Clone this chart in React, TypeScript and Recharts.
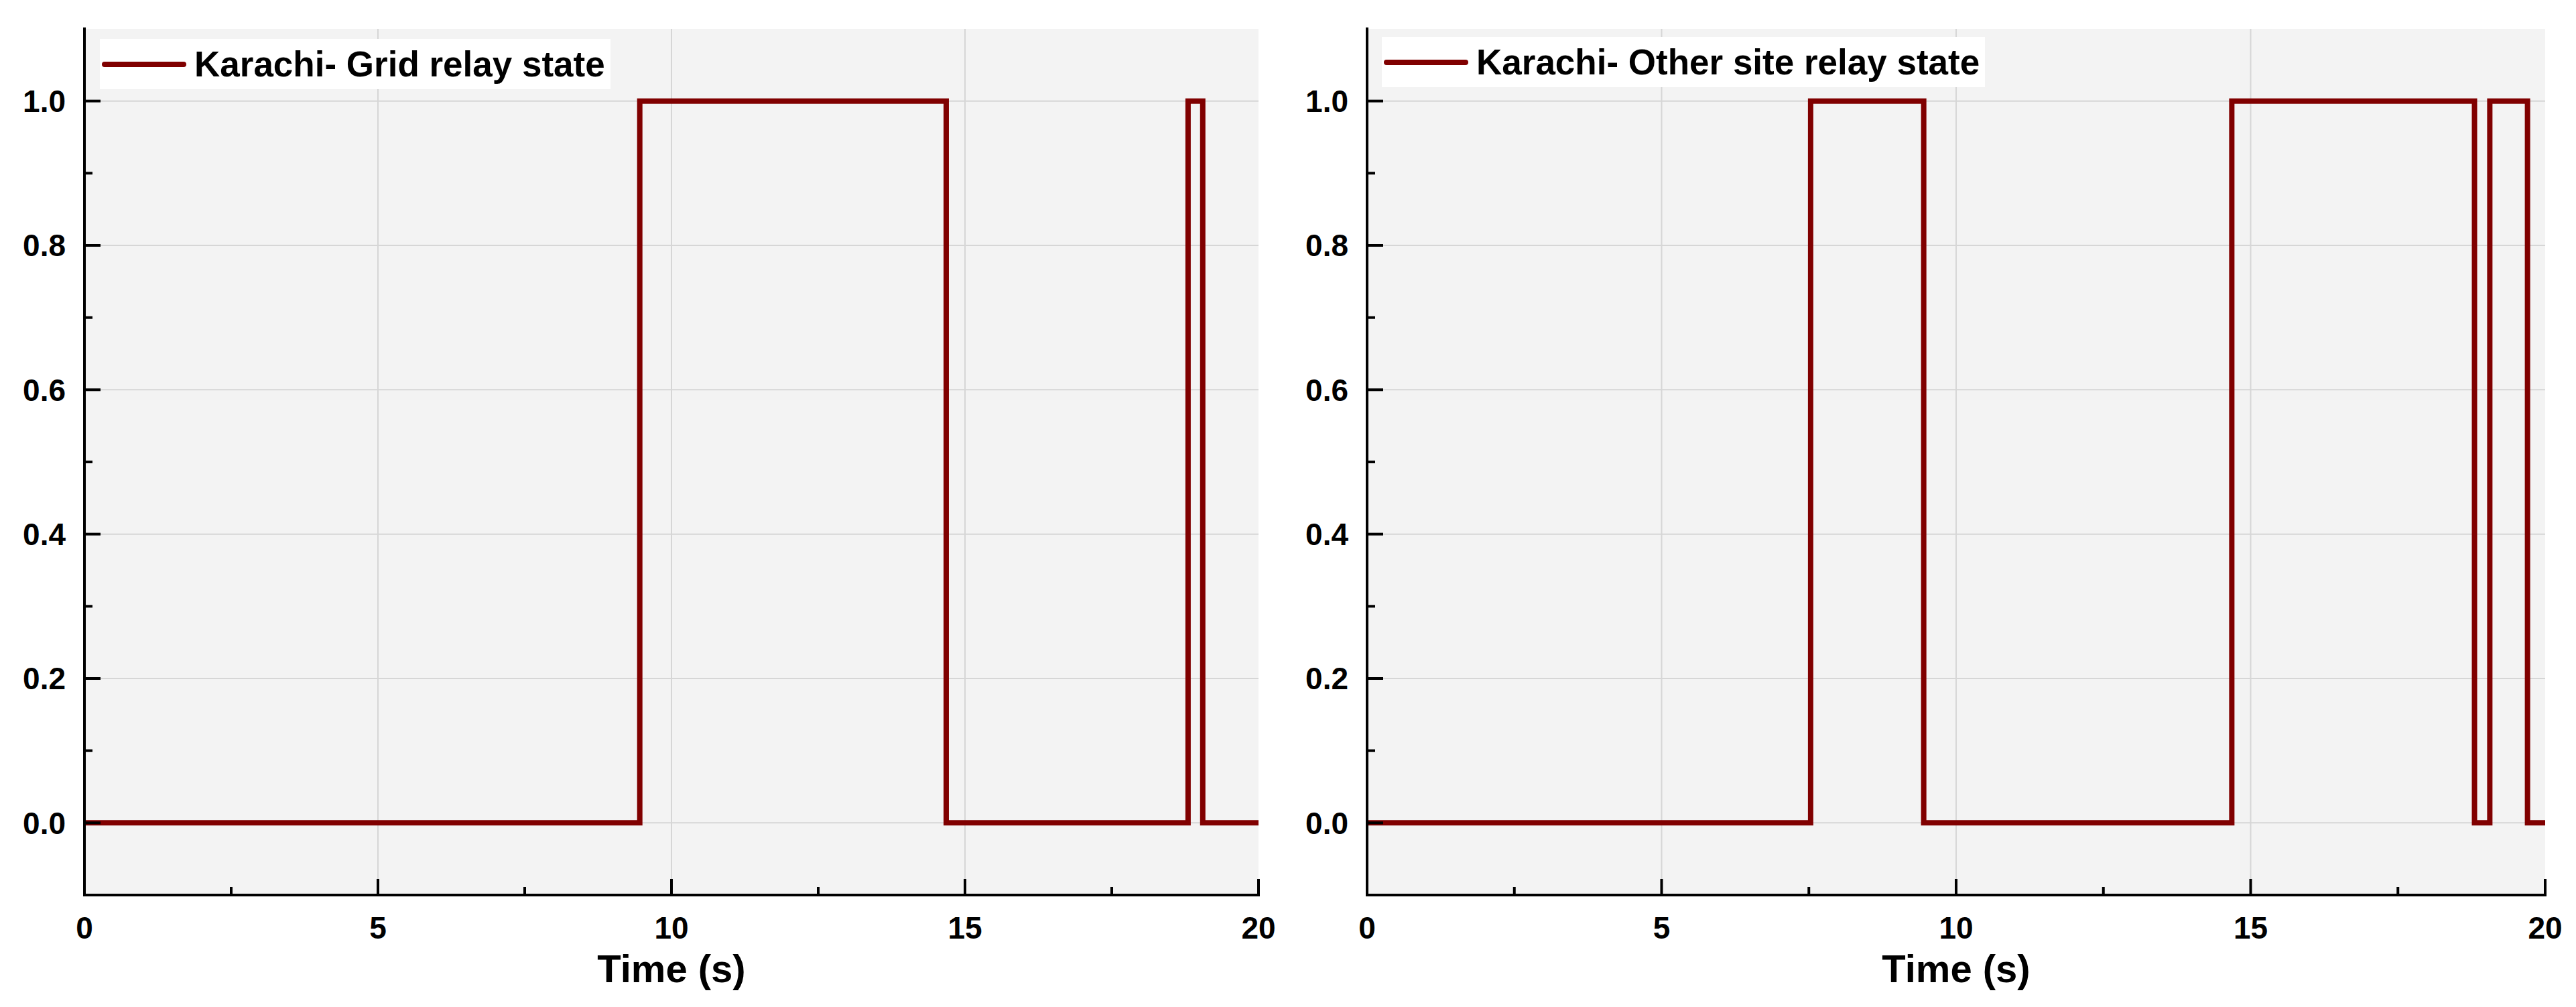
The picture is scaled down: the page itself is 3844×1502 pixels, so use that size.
import { LineChart, Line, XAxis, YAxis, CartesianGrid, Legend } from 'recharts'

// axis ticks
const xMajor = [0, 5, 10, 15, 20]
const xMinor = [2.5, 7.5, 12.5, 17.5]
const yMajor = [0, 0.2, 0.4, 0.6, 0.8, 1.0]
const yMinor = [0.1, 0.3, 0.5, 0.7, 0.9]
const xGrid = [5, 10, 15]
const yGrid = [0, 0.2, 0.4, 0.6, 0.8, 1.0]

// relay states (switching instants, s)
const gridTimes = [0, 9.46, 14.68, 18.8, 19.05, 20]
const gridState = [0, 1, 0, 1, 0, 0]
const otherTimes = [0, 7.53, 9.45, 14.68, 18.8, 19.06, 19.7, 20]
const otherState = [0, 1, 0, 1, 0, 1, 0, 0]

const FONT = '"Liberation Sans", Arial, Helvetica, sans-serif'
const RED = '#800000'

const xTicks = [...xMajor, ...xMinor].sort((a, b) => a - b)
const yTicks = [...yMajor, ...yMinor].sort((a, b) => a - b)
const topTicks = [...xMajor.slice(1, -1), ...xMinor].sort((a, b) => a - b)
const rightTicks = yTicks.filter((v) => v > 0)

const isMajor = (list: number[], v: number) => list.some((m) => Math.abs(m - v) < 1e-9)

function BottomTick({ x, y, payload }: any) {
  const major = isMajor(xMajor, payload.value)
  return (
    <g>
      <line x1={x} y1={y} x2={x} y2={y - (major ? 24 : 12)} stroke="#000" strokeWidth={4} />
      {major && (
        <text x={x} y={y + 32} dy="0.71em" textAnchor="middle" fontSize={46} fontWeight="bold" fontFamily={FONT} fill="#000">
          {payload.value}
        </text>
      )}
    </g>
  )
}

function LeftTick({ x, y, payload }: any) {
  const major = isMajor(yMajor, payload.value)
  return (
    <g>
      <line x1={x} y1={y} x2={x + (major ? 24 : 12)} y2={y} stroke="#000" strokeWidth={4} />
      {major && (
        <text x={x - 28} y={y} dy="0.355em" textAnchor="end" fontSize={46} fontWeight="bold" fontFamily={FONT} fill="#000">
          {payload.value.toFixed(1)}
        </text>
      )}
    </g>
  )
}

function TopTick({ x, y }: any) {
  return <line x1={x} y1={y} x2={x} y2={y + 12} stroke="#000" strokeWidth={4} />
}

function RightTick({ x, y, payload }: any) {
  const major = isMajor(yMajor, payload.value)
  return <line x1={x} y1={y} x2={x - (major ? 24 : 12)} y2={y} stroke="#000" strokeWidth={4} />
}

function LegendBox({ label }: { label: string }) {
  return (
    <div
      style={{
        display: 'flex',
        alignItems: 'center',
        height: 75,
        background: '#fff',
        padding: '0 8px 0 3px',
        fontFamily: FONT,
        fontWeight: 'bold',
        fontSize: 53,
        color: '#000',
        whiteSpace: 'nowrap',
      }}
    >
      <svg width={126} height={12}>
        <line x1={4} y1={6} x2={122} y2={6} stroke={RED} strokeWidth={8} strokeLinecap="round" />
      </svg>
      <span style={{ marginLeft: 12 }}>{label}</span>
    </div>
  )
}

interface PanelProps {
  times: number[]
  states: number[]
  label: string
  width: number
  margin: { top: number; right: number; bottom: number; left: number }
  legendPos: { left: number; top: number }
}

function RelayPanel({ times, states, label, width, margin, legendPos }: PanelProps) {
  const data = times.map((t, i) => ({ t, state: states[i] }))
  const axisLine = { stroke: '#000', strokeWidth: 4, strokeLinecap: 'square' as const }
  return (
    <LineChart width={width} height={1502} data={data} margin={margin}>
      <CartesianGrid
        fill="#f3f3f3"
        stroke="#d6d6d6"
        strokeWidth={2}
        horizontalValues={yGrid}
        verticalValues={xGrid}
      />
      <XAxis
        dataKey="t"
        type="number"
        domain={[0, 20]}
        ticks={xTicks}
        interval={0}
        height={130}
        tickSize={0}
        tickMargin={0}
        tickLine={false}
        axisLine={axisLine}
        tick={BottomTick}
        label={{
          value: 'Time (s)',
          position: 'insideBottom',
          offset: 0,
          fontSize: 58,
          fontWeight: 'bold',
          fill: '#000',
          fontFamily: FONT,
        }}
      />
      <XAxis
        xAxisId="top"
        orientation="top"
        type="number"
        domain={[0, 20]}
        ticks={topTicks}
        interval={0}
        height={0}
        tickSize={0}
        tickMargin={0}
        tickLine={false}
        axisLine={axisLine}
        tick={TopTick}
      />
      <YAxis
        type="number"
        domain={[-0.1, 1.1]}
        ticks={yTicks}
        interval={0}
        width={100}
        tickSize={0}
        tickMargin={0}
        tickLine={false}
        axisLine={axisLine}
        tick={LeftTick}
        allowDataOverflow
      />
      <YAxis
        yAxisId="right"
        orientation="right"
        type="number"
        domain={[-0.1, 1.1]}
        ticks={rightTicks}
        interval={0}
        width={0}
        tickSize={0}
        tickMargin={0}
        tickLine={false}
        axisLine={axisLine}
        tick={RightTick}
        allowDataOverflow
      />
      <Legend
        layout="vertical"
        verticalAlign="middle"
        align="center"
        wrapperStyle={{ left: legendPos.left, top: legendPos.top, width: 'auto', height: 'auto' }}
        content={() => <LegendBox label={label} />}
      />
      <Line
        type="stepAfter"
        dataKey="state"
        stroke={RED}
        strokeWidth={8}
        dot={false}
        activeDot={false}
        isAnimationActive={false}
      />
    </LineChart>
  )
}

export default function App() {
  return (
    <div style={{ position: 'absolute', left: 0, top: 0, width: 3844, height: 1502, background: '#fff' }}>
      <div style={{ position: 'absolute', left: 0, top: 0 }}>
        <RelayPanel
          times={gridTimes}
          states={gridState}
          label="Karachi- Grid relay state"
          width={1930}
          margin={{ top: 43, right: 52, bottom: 37, left: 26 }}
          legendPos={{ left: 149, top: 58 }}
        />
      </div>
      <div style={{ position: 'absolute', left: 1930, top: 0 }}>
        <RelayPanel
          times={otherTimes}
          states={otherState}
          label="Karachi- Other site relay state"
          width={1914}
          margin={{ top: 43, right: 46, bottom: 37, left: 10 }}
          legendPos={{ left: 132, top: 55 }}
        />
      </div>
    </div>
  )
}
